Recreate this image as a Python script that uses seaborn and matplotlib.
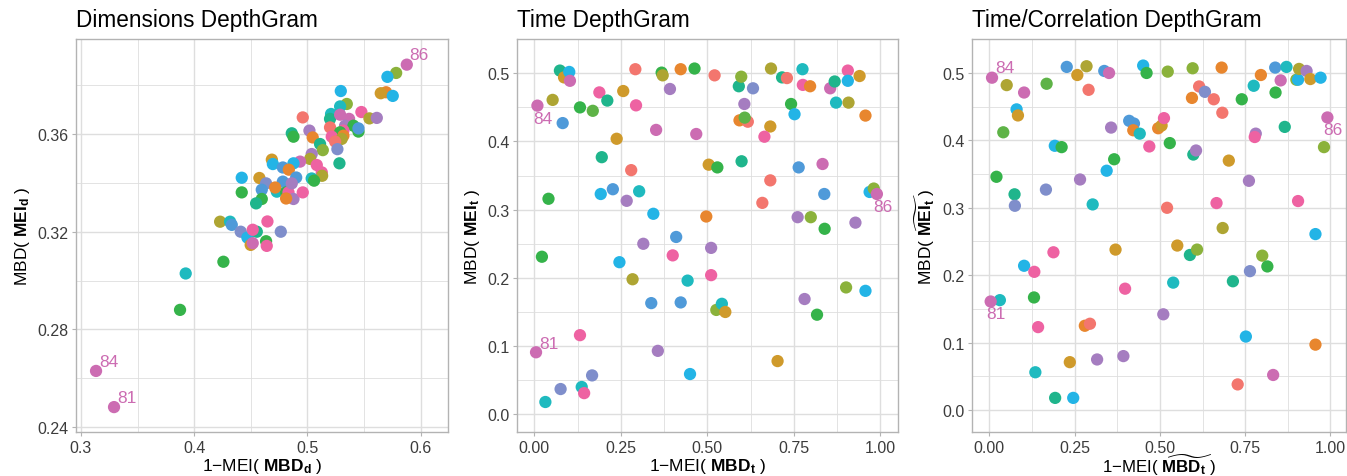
import matplotlib
matplotlib.use("Agg")
import matplotlib.pyplot as plt
from matplotlib.ticker import FixedLocator
import seaborn as sns
import pandas as pd

# ---------------- data ----------------
# colour groups (hue categories)
PALETTE = {
    "red": "#F3766E", "orange": "#E8862E", "gold": "#CF9A2B", "olive": "#AEA533",
    "lime": "#8BB23B", "leaf": "#5EB347", "green": "#35B34A", "teal": "#1FB58C",
    "cyan": "#1FBABF", "sky": "#23B4E6", "blue": "#4F9AD9", "slate": "#7F8ECB",
    "purple": "#A57DC0", "orchid": "#CC6CB2", "pink": "#EE62A2",
}

outlier_ids = ["81", "84", "86"]

# Panel 1: Dimensions DepthGram
dim_x = [0.5784, 0.5707, 0.5695, 0.5648, 0.5754, 0.5295, 0.5348, 0.5289, 0.5209, 0.5200,
         0.4959, 0.5477, 0.5548, 0.5613, 0.5289, 0.5368, 0.5333, 0.5200, 0.5407, 0.5451,
         0.5451, 0.5318, 0.5289, 0.5018, 0.4862, 0.4877, 0.5047, 0.5215, 0.5318, 0.5303,
         0.5245, 0.5112, 0.5136, 0.5265, 0.5283, 0.5038, 0.5024, 0.5083, 0.5127, 0.5130,
         0.5038, 0.5059, 0.4935, 0.4877, 0.4686, 0.4695, 0.4783, 0.4836, 0.4901, 0.4420,
         0.4576, 0.4635, 0.4597, 0.4783, 0.4730, 0.4812, 0.4833, 0.4862, 0.4877, 0.4812,
         0.4959, 0.4420, 0.4597, 0.4547, 0.4229, 0.4317, 0.4332, 0.4411, 0.4470, 0.4553,
         0.4517, 0.4647, 0.4765, 0.4499, 0.4517, 0.4635, 0.4641, 0.4258, 0.3925, 0.3875,
         0.4715]
dim_y = [0.3850, 0.3834, 0.3771, 0.3767, 0.3756, 0.3776, 0.3723, 0.3713, 0.3682, 0.3662,
         0.3668, 0.3690, 0.3664, 0.3666, 0.3679, 0.3662, 0.3634, 0.3627, 0.3634, 0.3610,
         0.3623, 0.3614, 0.3607, 0.3614, 0.3603, 0.3589, 0.3586, 0.3589, 0.3593, 0.3580,
         0.3569, 0.3559, 0.3534, 0.3538, 0.3480, 0.3518, 0.3498, 0.3473, 0.3443, 0.3429,
         0.3418, 0.3409, 0.3487, 0.3480, 0.3495, 0.3477, 0.3463, 0.3454, 0.3422, 0.3421,
         0.3420, 0.3398, 0.3372, 0.3405, 0.3364, 0.3361, 0.3361, 0.3398, 0.3334, 0.3336,
         0.3361, 0.3361, 0.3334, 0.3316, 0.3241, 0.3241, 0.3228, 0.3200, 0.3176, 0.3200,
         0.3208, 0.3242, 0.3200, 0.3146, 0.3153, 0.3161, 0.3142, 0.3077, 0.3029, 0.2880,
         0.3381]
dim_grp = ["lime", "sky", "orange", "gold", "sky", "sky", "lime", "cyan", "cyan", "teal",
           "red", "pink", "olive", "purple", "orchid", "orchid", "purple", "red", "green", "green",
           "blue", "pink", "green", "purple", "teal", "green", "orange", "pink", "orange", "olive",
           "red", "teal", "lime", "slate", "teal", "purple", "olive", "pink", "pink", "olive",
           "cyan", "green", "orchid", "sky", "gold", "sky", "blue", "orange", "blue", "sky",
           "gold", "slate", "blue", "blue", "cyan", "green", "pink", "purple", "purple", "orange",
           "pink", "green", "green", "teal", "olive", "cyan", "blue", "slate", "sky", "teal",
           "pink", "pink", "slate", "gold", "orchid", "green", "pink", "green", "cyan", "green",
           "orange"]
dim_out_x = [0.3292, 0.3133, 0.5878]
dim_out_y = [0.2482, 0.2630, 0.3884]

# Panel 2: Time DepthGram
time_x = [0.074, 0.086, 0.101, 0.103, 0.053, 0.082, 0.132, 0.169, 0.188, 0.211,
          0.257, 0.292, 0.294, 0.238, 0.195, 0.280, 0.227, 0.192, 0.267, 0.303,
          0.041, 0.344, 0.352, 0.368, 0.371, 0.392, 0.423, 0.463, 0.468, 0.521,
          0.504, 0.529, 0.497, 0.410, 0.315, 0.400, 0.246, 0.022, 0.284, 0.443,
          0.511, 0.511, 0.338, 0.423, 0.526, 0.542, 0.552, 0.132, 0.357, 0.450,
          0.167, 0.076, 0.137, 0.144, 0.032, 0.703, 0.591, 0.598, 0.632, 0.607,
          0.593, 0.617, 0.608, 0.599, 0.684, 0.716, 0.730, 0.682, 0.665, 0.682,
          0.659, 0.742, 0.752, 0.775, 0.776, 0.797, 0.764, 0.833, 0.761, 0.799,
          0.839, 0.838, 0.781, 0.817, 0.855, 0.868, 0.872, 0.906, 0.906, 0.940,
          0.908, 0.957, 0.928, 0.901, 0.957, 0.969, 0.981]
time_y = [0.504, 0.494, 0.502, 0.489, 0.461, 0.427, 0.450, 0.445, 0.472, 0.460,
          0.474, 0.506, 0.453, 0.404, 0.377, 0.358, 0.330, 0.323, 0.313, 0.327,
          0.316, 0.294, 0.417, 0.501, 0.497, 0.477, 0.506, 0.507, 0.411, 0.497,
          0.366, 0.362, 0.290, 0.260, 0.250, 0.233, 0.223, 0.231, 0.198, 0.196,
          0.244, 0.204, 0.163, 0.164, 0.153, 0.162, 0.150, 0.116, 0.093, 0.059,
          0.057, 0.037, 0.040, 0.031, 0.018, 0.078, 0.481, 0.495, 0.478, 0.455,
          0.431, 0.429, 0.435, 0.371, 0.507, 0.494, 0.493, 0.422, 0.407, 0.343,
          0.310, 0.455, 0.440, 0.506, 0.483, 0.481, 0.362, 0.367, 0.289, 0.289,
          0.272, 0.323, 0.169, 0.146, 0.478, 0.488, 0.457, 0.504, 0.489, 0.496,
          0.457, 0.438, 0.281, 0.186, 0.181, 0.326, 0.331]
time_grp = ["teal", "gold", "sky", "orchid", "olive", "blue", "green", "leaf", "pink", "teal",
            "gold", "red", "pink", "gold", "teal", "red", "blue", "sky", "purple", "cyan",
            "green", "sky", "orchid", "green", "olive", "purple", "orange", "green", "orchid", "red",
            "gold", "green", "orange", "blue", "purple", "pink", "sky", "green", "olive", "cyan",
            "purple", "pink", "blue", "blue", "lime", "cyan", "gold", "pink", "purple", "sky",
            "slate", "slate", "cyan", "pink", "cyan", "gold", "teal", "lime", "slate", "purple",
            "orange", "red", "leaf", "teal", "olive", "teal", "red", "gold", "pink", "red",
            "red", "green", "sky", "cyan", "pink", "orange", "blue", "orchid", "purple", "lime",
            "green", "blue", "purple", "green", "orchid", "teal", "cyan", "pink", "sky", "gold",
            "olive", "orange", "purple", "lime", "sky", "sky", "lime"]
time_out_x = [0.005, 0.009, 0.990]
time_out_y = [0.0909, 0.4526, 0.323]

# Panel 3: Time/Correlation DepthGram
corr_x = [0.031, 0.051, 0.102, 0.080, 0.084, 0.041, 0.168, 0.021, 0.074, 0.075,
          0.166, 0.192, 0.212, 0.227, 0.258, 0.285, 0.291, 0.337, 0.351, 0.266,
          0.303, 0.344, 0.357, 0.366, 0.188, 0.102, 0.132, 0.131, 0.143, 0.135,
          0.193, 0.246, 0.236, 0.280, 0.295, 0.316, 0.393, 0.370, 0.398, 0.410,
          0.424, 0.422, 0.441, 0.469, 0.451, 0.461, 0.495, 0.505, 0.512, 0.529,
          0.523, 0.521, 0.551, 0.539, 0.510, 0.596, 0.594, 0.615, 0.632, 0.658,
          0.681, 0.683, 0.598, 0.606, 0.588, 0.609, 0.666, 0.684, 0.702, 0.714,
          0.728, 0.752, 0.764, 0.761, 0.740, 0.775, 0.796, 0.781, 0.778, 0.800,
          0.815, 0.838, 0.839, 0.854, 0.866, 0.832, 0.871, 0.900, 0.905, 0.908,
          0.930, 0.941, 0.971, 0.905, 0.956, 0.956, 0.981]
corr_y = [0.163, 0.482, 0.471, 0.446, 0.437, 0.412, 0.484, 0.346, 0.320, 0.303,
          0.327, 0.392, 0.390, 0.509, 0.497, 0.510, 0.475, 0.503, 0.500, 0.342,
          0.305, 0.355, 0.419, 0.372, 0.234, 0.214, 0.205, 0.167, 0.123, 0.056,
          0.018, 0.018, 0.071, 0.125, 0.128, 0.075, 0.080, 0.238, 0.180, 0.429,
          0.425, 0.415, 0.410, 0.391, 0.511, 0.500, 0.418, 0.422, 0.433, 0.396,
          0.502, 0.300, 0.244, 0.189, 0.142, 0.507, 0.463, 0.480, 0.472, 0.461,
          0.508, 0.441, 0.379, 0.385, 0.230, 0.238, 0.307, 0.270, 0.370, 0.191,
          0.038, 0.109, 0.206, 0.340, 0.461, 0.481, 0.497, 0.410, 0.405, 0.229,
          0.213, 0.508, 0.471, 0.489, 0.420, 0.052, 0.509, 0.490, 0.490, 0.506,
          0.503, 0.491, 0.493, 0.310, 0.261, 0.097, 0.390]
corr_grp = ["cyan", "olive", "orchid", "sky", "gold", "leaf", "leaf", "green", "teal", "slate",
            "slate", "sky", "green", "blue", "gold", "olive", "red", "blue", "orchid", "purple",
            "cyan", "sky", "purple", "green", "pink", "sky", "pink", "green", "pink", "cyan",
            "teal", "sky", "gold", "orange", "red", "purple", "purple", "gold", "pink", "blue",
            "blue", "orange", "cyan", "pink", "sky", "green", "orange", "gold", "pink", "green",
            "lime", "red", "gold", "cyan", "purple", "lime", "orange", "red", "slate", "red",
            "orange", "red", "teal", "purple", "teal", "lime", "pink", "olive", "gold", "teal",
            "red", "sky", "slate", "purple", "green", "cyan", "orange", "purple", "pink", "lime",
            "green", "blue", "green", "orchid", "teal", "orchid", "cyan", "lime", "sky", "olive",
            "purple", "gold", "sky", "pink", "sky", "orange", "lime"]
corr_out_x = [0.004, 0.008, 0.991]
corr_out_y = [0.161, 0.493, 0.434]

# ---------------- style ----------------
sns.set_theme(style="white")
plt.rcParams["font.family"] = ["Liberation Sans", "DejaVu Sans"]
plt.rcParams["mathtext.fontset"] = "custom"
plt.rcParams["mathtext.rm"] = "Liberation Sans"
plt.rcParams["mathtext.it"] = "Liberation Sans:italic"
plt.rcParams["mathtext.bf"] = "Liberation Sans:bold"

GRID = "#DEDEDE"
BORDER = "#B3B3B3"
TICKTXT = "#3C3C3C"
LABELCOL = "#CC6CB2"

fig = plt.figure(figsize=(13.47, 4.77), dpi=100)

bottom = 44 / 477
height = (433 - 40) / 477
axes_px = [(76, 448), (517, 898), (972, 1346)]
axs = [fig.add_axes([l / 1347, bottom, (r - l) / 1347, height]) for l, r in axes_px]

panels = [
    dict(title="Dimensions DepthGram", x=dim_x, y=dim_y, g=dim_grp, ox=dim_out_x, oy=dim_out_y,
         xlim=(0.2956, 0.6242), ylim=(0.238, 0.3989),
         xmaj=[0.3, 0.4, 0.5, 0.6], xmin=[0.35, 0.45, 0.55],
         ymaj=[0.24, 0.28, 0.32, 0.36], ymin=[0.26, 0.30, 0.34, 0.38],
         xfmt="{:.1f}", yfmt="{:.2f}",
         xlabel="1\u2212MEI( $\\mathbf{MBD}_\\mathbf{d}$ )",
         ylabel="MBD( $\\mathbf{MEI}_\\mathbf{d}$ )",
         ylab_x=-0.145, xlab_base=471, xlab_fs=12.5,
         offs=[(9, 7), (9, 7), (9, 7)]),
    dict(title="Time DepthGram", x=time_x, y=time_y, g=time_grp, ox=time_out_x, oy=time_out_y,
         xlim=(-0.05, 1.051), ylim=(-0.026, 0.5503),
         xmaj=[0, 0.25, 0.5, 0.75, 1.0], xmin=[0.125, 0.375, 0.625, 0.875],
         ymaj=[0, 0.1, 0.2, 0.3, 0.4, 0.5], ymin=[0.05, 0.15, 0.25, 0.35, 0.45],
         xfmt="{:.2f}", yfmt="{:.1f}",
         xlabel="1\u2212MEI( $\\mathbf{MBD}_\\mathbf{t}$ )",
         ylabel="MBD( $\\mathbf{MEI}_\\mathbf{t}$ )",
         ylab_x=-0.118, xlab_base=471, xlab_fs=12.5,
         offs=[(9, 6), (4, -9), (4, -9)]),
    dict(title="Time/Correlation DepthGram", x=corr_x, y=corr_y, g=corr_grp, ox=corr_out_x, oy=corr_out_y,
         xlim=(-0.0507, 1.0455), ylim=(-0.0326, 0.5504),
         xmaj=[0, 0.25, 0.5, 0.75, 1.0], xmin=[0.125, 0.375, 0.625, 0.875],
         ymaj=[0, 0.1, 0.2, 0.3, 0.4, 0.5], ymin=[0.05, 0.15, 0.25, 0.35, 0.45],
         xfmt="{:.2f}", yfmt="{:.1f}",
         xlabel="1\u2212MEI( $\\widetilde{\\mathbf{MBD}_\\mathbf{t}}$ )",
         ylabel="MBD( $\\widetilde{\\mathbf{MEI}_\\mathbf{t}}$ )",
         ylab_x=-0.125, xlab_base=473.5, xlab_fs=12.2,
         offs=[(4, -9), (9, 7), (4, -9)]),
]

for ax, p in zip(axs, panels):
    df = pd.DataFrame({"x": p["x"] + p["ox"], "y": p["y"] + p["oy"],
                       "grp": p["g"] + ["orchid"] * len(p["ox"])})
    sns.scatterplot(data=df, x="x", y="y", hue="grp", palette=PALETTE, s=78,
                    linewidth=0, legend=False, ax=ax, zorder=3)
    for lab, xx, yy, off in zip(outlier_ids, p["ox"], p["oy"], p["offs"]):
        ax.annotate(lab, (xx, yy), xytext=off, textcoords="offset points",
                    ha="center", va="center", fontsize=12.5, color=LABELCOL, zorder=4)
    ax.set_xlim(*p["xlim"])
    ax.set_ylim(*p["ylim"])
    ax.xaxis.set_major_locator(FixedLocator(p["xmaj"]))
    ax.xaxis.set_minor_locator(FixedLocator(p["xmin"]))
    ax.yaxis.set_major_locator(FixedLocator(p["ymaj"]))
    ax.yaxis.set_minor_locator(FixedLocator(p["ymin"]))
    ax.set_xticklabels([p["xfmt"].format(v) for v in p["xmaj"]])
    ax.set_yticklabels([p["yfmt"].format(v) for v in p["ymaj"]])
    ax.grid(True, which="major", color=GRID, linewidth=1.0, zorder=0)
    ax.grid(True, which="minor", color=GRID, linewidth=0.6, zorder=0)
    ax.set_axisbelow(True)
    for s in ax.spines.values():
        s.set_color(BORDER)
        s.set_linewidth(1.0)
    ax.tick_params(which="major", length=3, width=0.8, color=BORDER, labelsize=11.5,
                   labelcolor=TICKTXT, pad=2.5, bottom=True, left=True)
    ax.tick_params(which="minor", length=0)
    ax.set_title(p["title"], loc="left", fontsize=16.3, pad=9, color="black")
    ax.set_xlabel(p["xlabel"], fontsize=p["xlab_fs"], color="black")
    ax.set_ylabel(p["ylabel"], fontsize=12.5, color="black")
    ax.xaxis.label.set_va("baseline")
    ax.xaxis.set_label_coords(0.5, (433 - p["xlab_base"]) / 393)
    ax.yaxis.label.set_va("center")
    ax.yaxis.set_label_coords(p["ylab_x"], 0.5)

fig.savefig("out.png", dpi=100)
